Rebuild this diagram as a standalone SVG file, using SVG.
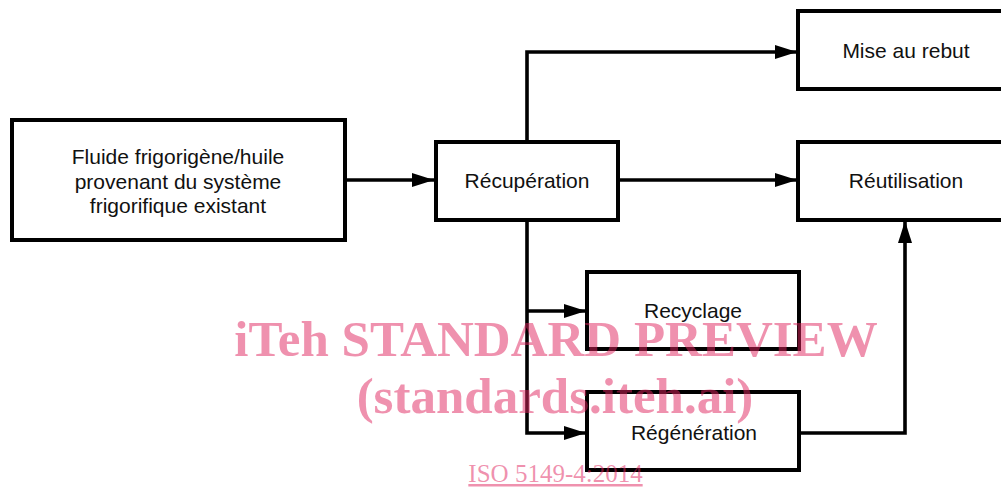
<svg xmlns="http://www.w3.org/2000/svg" width="1001" height="487" viewBox="0 0 1001 487">
<defs>
<style>
.box{fill:#fff;stroke:#000;stroke-width:4;stroke-linejoin:miter}
.lbl{font-family:"Liberation Sans",Arial,sans-serif;font-size:21px;fill:#111;text-anchor:middle}
.con{fill:none;stroke:#000;stroke-width:3.6;stroke-linejoin:miter}
.wm{font-family:"Liberation Serif","Times New Roman",serif;fill:#e0245e;fill-opacity:0.5;text-anchor:middle}
</style>
<marker id="arr" markerUnits="userSpaceOnUse" markerWidth="22" markerHeight="14" refX="22" refY="7" orient="auto">
<path d="M0,0 L22,7 L0,14 z" fill="#000"/>
</marker>
</defs>
<rect width="1001" height="487" fill="#fff"/>
<g id="connectors">
<path class="con" d="M345,180 H434" marker-end="url(#arr)"/>
<path class="con" d="M527,142 V52 H797" marker-end="url(#arr)"/>
<path class="con" d="M618,180 H797" marker-end="url(#arr)"/>
<path class="con" d="M527,220 V433 H586" marker-end="url(#arr)"/>
<path class="con" d="M527,311 H586" marker-end="url(#arr)"/>
<path class="con" d="M799,433 H905 V221" marker-end="url(#arr)"/>
</g>
<g id="source">
<rect class="box" x="12" y="120" width="333" height="120"/>
<text class="lbl" x="178" y="164">Fluide frigorigène/huile</text>
<text class="lbl" x="178" y="188.5">provenant du système</text>
<text class="lbl" x="178" y="213">frigorifique existant</text>
</g>
<g id="recuperation">
<rect class="box" x="436" y="142" width="182" height="78"/>
<text class="lbl" x="527" y="187.5">Récupération</text>
</g>
<g id="mise-au-rebut">
<rect class="box" x="798" y="11" width="220" height="78"/>
<text class="lbl" x="906" y="57.5">Mise au rebut</text>
</g>
<g id="reutilisation">
<rect class="box" x="798" y="142" width="220" height="78"/>
<text class="lbl" x="906" y="187.5">Réutilisation</text>
</g>
<g id="recyclage">
<rect class="box" x="587" y="272" width="212" height="77"/>
<text class="lbl" x="693" y="317.5">Recyclage</text>
</g>
<g id="regeneration">
<rect class="box" x="587" y="392" width="212" height="78"/>
<text class="lbl" x="694" y="440">Régénération</text>
</g>
<g id="watermark">
<text class="wm" x="556" y="356" font-size="51" font-weight="bold">iTeh STANDARD PREVIEW</text>
<text class="wm" x="555" y="413" font-size="51" font-weight="bold">(standards.iteh.ai)</text>
<text class="wm" x="555.5" y="482" font-size="25" text-decoration="underline">ISO 5149-4:2014</text>
</g>
</svg>
